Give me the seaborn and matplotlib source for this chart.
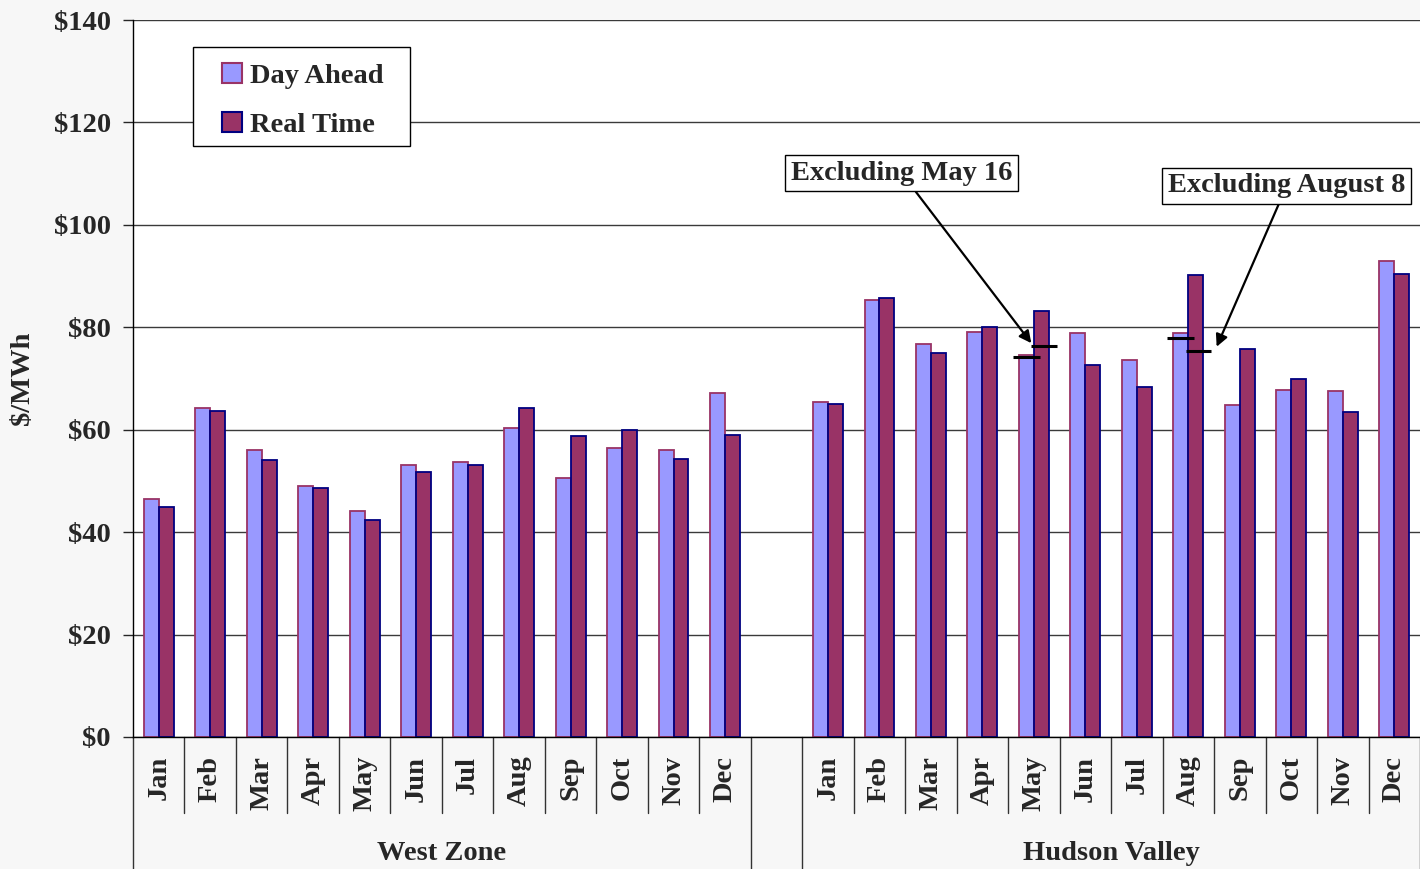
import pandas as pd
import seaborn as sns
import matplotlib.pyplot as plt
from matplotlib.patches import Patch, Rectangle
from matplotlib.transforms import blended_transform_factory

months = ['Jan', 'Feb', 'Mar', 'Apr', 'May', 'Jun', 'Jul', 'Aug', 'Sep', 'Oct', 'Nov', 'Dec']
zones = ['West Zone', 'Hudson Valley']

west_da = [46.5, 64.2, 56.0, 49.0, 44.1, 53.1, 53.7, 60.3, 50.6, 56.4, 56.0, 67.2]
west_rt = [44.9, 63.7, 54.1, 48.6, 42.4, 51.7, 53.1, 64.2, 58.8, 59.9, 54.3, 59.0]
hudson_da = [65.4, 85.3, 76.7, 79.1, 74.5, 78.9, 73.6, 78.9, 64.8, 67.8, 67.5, 93.0]
hudson_rt = [65.0, 85.7, 75.0, 80.1, 83.2, 72.6, 68.3, 90.2, 75.7, 70.0, 63.5, 90.5]

# values excluding the outlier days (Hudson Valley)
excl_months = ['May', 'Aug']
excl_da = [74.2, 78.0]
excl_rt = [76.4, 75.4]
excl_labels = ['Excluding May 16', 'Excluding August 8']

series = ['Day Ahead', 'Real Time']
fills = {'Day Ahead': '#9999FF', 'Real Time': '#993366'}
edges = {'Day Ahead': '#993366', 'Real Time': '#000080'}

rows = []
for zone, da, rt in [(zones[0], west_da, west_rt), (zones[1], hudson_da, hudson_rt)]:
    for m, a, b in zip(months, da, rt):
        rows.append((zone + ' ' + m, 'Day Ahead', a))
        rows.append((zone + ' ' + m, 'Real Time', b))
df = pd.DataFrame(rows, columns=['key', 'series', 'price'])

order = [zones[0] + ' ' + m for m in months] + ['gap'] + [zones[1] + ' ' + m for m in months]

sns.set_style('white')
plt.rcParams['font.family'] = ['Liberation Serif', 'DejaVu Serif']
plt.rcParams['font.weight'] = 'bold'
fs = 20.5

fig = plt.figure(figsize=(14.2, 8.69), dpi=100, facecolor='#F7F7F7')
ax = fig.add_axes([133 / 1420, 132 / 869, 1287 / 1420, 717 / 869])
ax.set_facecolor('white')

sns.barplot(data=df, x='key', y='price', hue='series', order=order, hue_order=series,
            palette=fills, width=0.58, saturation=1, legend=False, ax=ax)
for cont, s in zip(ax.containers, series):
    for bar in cont:
        bar.set_edgecolor(edges[s])
        bar.set_linewidth(1.3)

ax.set_xlim(-0.5, len(order) - 0.5)
ax.set_ylim(0, 140)
ax.set_yticks(range(0, 141, 20))
ax.set_yticklabels(['$%d' % v for v in range(0, 141, 20)], fontsize=fs, fontweight='bold')
ax.tick_params(axis='y', direction='out', length=7, width=1, pad=9, left=True)
ax.set_xticks([])
ax.set_xlabel('')
ax.set_ylabel('')
ax.grid(axis='y', color='#3a3a3a', lw=1)
ax.set_axisbelow(True)
for sp in ['top', 'right']:
    ax.spines[sp].set_visible(False)
for sp in ['left', 'bottom']:
    ax.spines[sp].set_color('black')
    ax.spines[sp].set_linewidth(1)

ax.text(-0.086, 0.5, '$/MWh', transform=ax.transAxes, rotation=90, ha='center', va='center',
        fontsize=fs, fontweight='bold')

# category axis below the plot
tr = blended_transform_factory(ax.transData, ax.transAxes)
starts = [0, 13]
for zone, s0 in zip(zones, starts):
    for i, m in enumerate(months):
        ax.text(s0 + i, -0.026, m, transform=tr, rotation=90, ha='center', va='top',
                fontsize=fs, fontweight='bold', clip_on=False)
        if i < len(months) - 1:
            ax.plot([s0 + i + 0.5] * 2, [0, -0.106], transform=tr, color='#333333', lw=1, clip_on=False)
    ax.text(s0 + 5.5, -0.162, zone, transform=tr, ha='center', va='center',
            fontsize=fs, fontweight='bold', clip_on=False)
for x in [-0.5, 11.5, 12.5, 24.5]:
    ax.plot([x, x], [0, -0.2], transform=tr, color='#333333', lw=1, clip_on=False)

# markers for the values excluding outlier days
off = 0.145
for m, da, rt in zip(excl_months, excl_da, excl_rt):
    pos = order.index(zones[1] + ' ' + m)
    ax.hlines(da, pos - off - 0.26, pos - off + 0.26, color='black', lw=2.2, zorder=5)
    ax.hlines(rt, pos + off - 0.2, pos + off + 0.3, color='black', lw=2.2, zorder=5)

box = dict(boxstyle='square,pad=0.2', fc='white', ec='black', lw=1)
arrow = dict(arrowstyle='-|>', color='black', lw=1.6, mutation_scale=18, shrinkA=0, shrinkB=0)
ax.annotate(excl_labels[0], xy=(16.95, 76.9), xytext=(14.43, 110.1), fontsize=fs, fontweight='bold',
            ha='center', va='center', bbox=box, arrowprops=arrow)
ax.annotate(excl_labels[1], xy=(20.55, 76.2), xytext=(21.91, 107.6), fontsize=fs, fontweight='bold',
            ha='center', va='center', bbox=box, arrowprops=arrow)

# legend: frame drawn separately so the padding matches
ax.add_patch(Rectangle((0.0466, 0.8243), 0.1686, 0.138, transform=ax.transAxes, fc='white',
                       ec='black', lw=1, zorder=6))
handles = [Patch(facecolor=fills[s], edgecolor=edges[s], lw=1.5) for s in series]
leg = ax.legend(handles, series, loc='upper left', bbox_to_anchor=(0.0695, 0.940), borderaxespad=0,
                prop={'size': fs, 'weight': 'bold'}, frameon=False, borderpad=0,
                labelspacing=0.82, handlelength=0.68, handleheight=0.68, handletextpad=0.28)
leg.set_zorder(7)

fig.savefig('out.png', dpi=100, facecolor=fig.get_facecolor())
